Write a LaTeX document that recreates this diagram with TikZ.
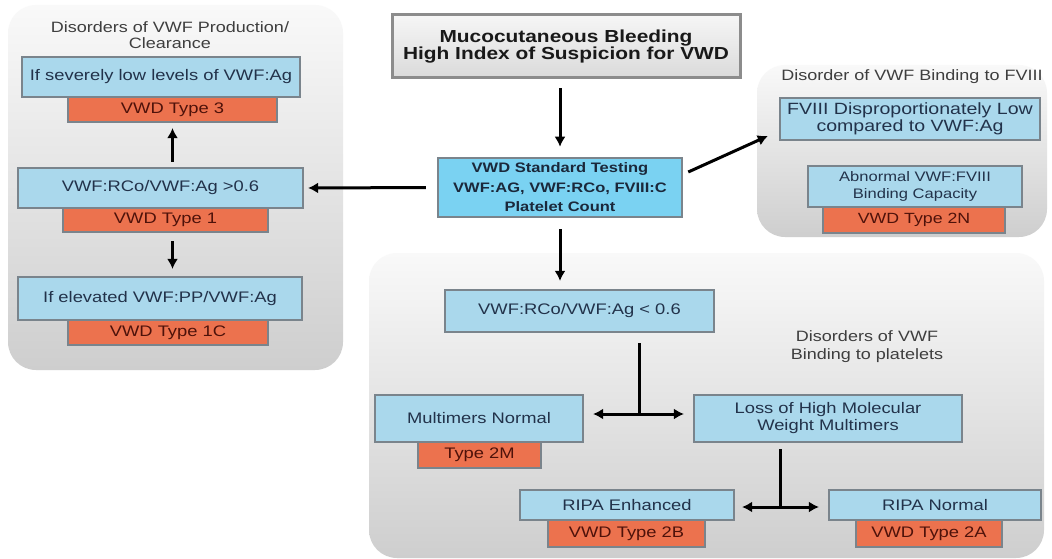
\documentclass[tikz,border=0pt]{standalone}
\usepackage{fontspec}
\setmainfont{Liberation Sans}[FakeStretch=1.2]
\usetikzlibrary{arrows.meta,calc}
\definecolor{boxblue}{RGB}{170,216,236}
\definecolor{cenblue}{RGB}{122,210,242}
\definecolor{boxorange}{RGB}{236,114,78}
\definecolor{boxedge}{RGB}{122,132,140}
\definecolor{txtnavy}{RGB}{34,50,74}
\definecolor{txtred}{RGB}{78,18,10}
\definecolor{titlegray}{RGB}{62,62,62}
\definecolor{paneltop}{RGB}{249,249,249}
\definecolor{panelbot}{RGB}{206,206,206}
\definecolor{topedge}{RGB}{140,140,140}
\definecolor{toptop}{RGB}{246,246,246}
\definecolor{topbot}{RGB}{218,218,218}
\tikzset{
 panel/.style={rectangle, rounded corners=28pt, top color=paneltop, bottom color=panelbot, inner sep=0pt},
 bbox/.style={rectangle, draw=boxedge, line width=2.2pt, fill=boxblue, text=txtnavy, inner sep=0pt, align=center, font=\fontsize{15.3}{17}\selectfont},
 obox/.style={rectangle, draw=boxedge, line width=2.2pt, fill=boxorange, text=txtred, inner sep=0pt, align=center, font=\fontsize{15.3}{17}\selectfont},
 ttl/.style={text=titlegray, align=center, inner sep=0pt, font=\fontsize{15}{16}\selectfont},
 topbox/.style={rectangle, draw=topedge, line width=3pt, top color=toptop, bottom color=topbot, text=black!90, inner sep=0pt, align=center, font=\bfseries\fontsize{17.4}{17}\selectfont},
 cbox/.style={rectangle, draw=boxedge, line width=2.5pt, fill=cenblue, text=txtnavy!80!black, inner sep=0pt, align=center, font=\bfseries\fontsize{13.75}{19.5}\selectfont},
 arr/.style={draw=black, line width=3pt, -{Latex[length=10pt,width=11pt]}},
 darr/.style={draw=black, line width=3pt, {Latex[length=10pt,width=11pt]}-{Latex[length=10pt,width=11pt]}},
 plain/.style={draw=black, line width=3pt},
}
\begin{document}
\begin{tikzpicture}[x=1pt,y=-1pt]
\fill[white] (0,0) rectangle (1052,559);
\useasboundingbox (0,0) rectangle (1052,559);

% panels
\node[panel, minimum width=335pt, minimum height=365pt] (lpanel) at (175.5,187.5) {};
\node[panel, minimum width=290pt, minimum height=172pt] (rp) at (902,151) {};
\node[panel, minimum width=675pt, minimum height=305pt] (lp) at (706.5,405.5) {};

% left panel
\node[ttl] (lt) at (170,35) {Disorders of VWF Production/\\Clearance};
\node[obox, minimum width=209pt, minimum height=25pt] (o3) at (172.5,109.5) {VWD Type 3};
\node[bbox, minimum width=278pt, minimum height=40pt] (b3) at (161,77) {If severely low levels of VWF:Ag};
\node[obox, minimum width=205pt, minimum height=24pt] (o1) at (165.5,220) {VWD Type 1};
\node[bbox, minimum width=285pt, minimum height=40pt] (b1) at (160.5,188) {VWF:RCo/VWF:Ag >0.6};
\node[obox, minimum width=200pt, minimum height=25pt] (o1c) at (168,332.5) {VWD Type 1C};
\node[bbox, minimum width=284pt, minimum height=43pt] (b1c) at (160,298.5) {If elevated VWF:PP/VWF:Ag};

% top and centre
\node[topbox, minimum width=348pt, minimum height=63pt] (tb) at (566,46.5) {Mucocutaneous Bleeding\\High Index of Suspicion for VWD};
\node[cbox, minimum width=244pt, minimum height=59pt] (cb) at (560,187.5) {VWD Standard Testing\\VWF:AG, VWF:RCo, FVIII:C\\Platelet Count};

% right panel
\node[ttl] (rt) at (912,77) {Disorder of VWF Binding to FVIII};
\node[bbox, minimum width=260pt, minimum height=42pt, font=\fontsize{16.3}{17}\selectfont] (rb1) at (910,119) {FVIII Disproportionately Low\\compared to VWF:Ag};
\node[obox, minimum width=182pt, minimum height=26pt, font=\fontsize{14.8}{17}\selectfont] (ro2) at (914,220) {VWD Type 2N};
\node[bbox, minimum width=214pt, minimum height=41pt, font=\fontsize{13.8}{17}\selectfont] (rb2) at (915,186.5) {Abnormal VWF:FVIII\\Binding Capacity};

% lower panel
\node[ttl, font=\fontsize{15}{18}\selectfont] (bt) at (867,347) {Disorders of VWF\\Binding to platelets};
\node[bbox, minimum width=269pt, minimum height=42pt] (lb) at (579.5,311) {VWF:RCo/VWF:Ag < 0.6};
\node[obox, minimum width=123pt, minimum height=26pt] (om) at (479.5,455) {Type 2M};
\node[bbox, minimum width=208pt, minimum height=47pt] (mn) at (479,418.5) {Multimers Normal};
\node[bbox, minimum width=268pt, minimum height=47pt] (lh) at (828,418.5) {Loss of High Molecular\\Weight Multimers};
\node[obox, minimum width=157pt, minimum height=27pt] (o2b) at (626.5,533.5) {VWD Type 2B};
\node[bbox, minimum width=214pt, minimum height=30pt] (re) at (627,505) {RIPA Enhanced};
\node[obox, minimum width=146pt, minimum height=27pt] (o2a) at (929,533.5) {VWD Type 2A};
\node[bbox, minimum width=212pt, minimum height=30pt] (rn) at (935,505) {RIPA Normal};

% connectors
\draw[arr, shorten <=5pt, shorten >=5pt] (b1.north -| o3.south) -- (o3.south);
\draw[arr, shorten <=8pt, shorten >=7pt] (o1.south -| o3.south) -- (b1c.north -| o3.south);
\draw[arr, shorten <=9pt, shorten >=10pt] (tb.south -| cb.north) -- (cb.north);
\draw[arr, shorten <=11pt, shorten >=4pt] (cb.west) -- (b1.east);
\draw[arr] ($(cb.east)+(5,-15.5)$) -- ($(rp.west)+(11,-15)$);
\draw[arr, shorten <=11pt, shorten >=8pt] (cb.south) -- (cb.south |- lb.north);
\coordinate (j1) at (639,414);
\draw[plain, shorten <=10pt] (lb.south -| j1) -- (j1);
\draw[darr, shorten <=9pt, shorten >=9pt] (mn.east |- j1) -- (lh.west |- j1);
\coordinate (j2) at (780,507);
\draw[plain, shorten <=6pt] (lh.south -| j2) -- (j2);
\draw[darr, shorten <=7pt, shorten >=9pt] (re.east |- j2) -- (rn.west |- j2);
\end{tikzpicture}
\end{document}
